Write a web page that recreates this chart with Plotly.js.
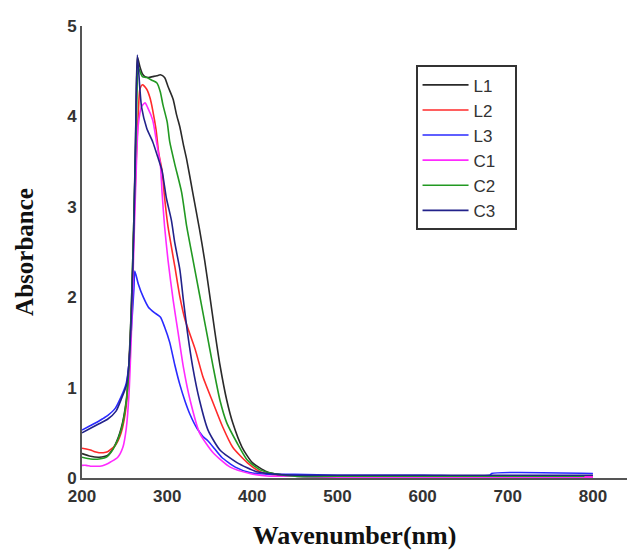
<!DOCTYPE html>
<html>
<head>
<meta charset="utf-8">
<script src="https://cdn.plot.ly/plotly-3.0.1.min.js"></script>
<style>html,body{margin:0;padding:0;background:#fff;}#chart{width:627px;height:550px;}</style>
</head>
<body>
<div id="chart"></div>
<script>
// Wavelength (nm) and absorbance values
const L1_x = [200,210,220,230,239,246,252,255,258,261,263,265,268,271,274,278,283,288,292,297,301,307,311,315,319,323,330,338,344,350,356,362,370,377,388,400,417,430,450,500,600,700,800];
const L1_y = [0.27,0.24,0.23,0.25,0.37,0.55,0.86,1.25,1.9,2.9,3.8,4.66,4.55,4.47,4.44,4.43,4.44,4.45,4.46,4.43,4.33,4.19,4.02,3.88,3.69,3.52,3.16,2.75,2.41,2.02,1.62,1.25,0.86,0.61,0.34,0.17,0.07,0.04,0.02,0.01,0.01,0.01,0.01];

const L2_x = [200,205,210,215,220,225,230,239,246,252,255,258,261,264,266,268,271,276,280,283,287,290,294,297,301,309,315,321,333,342,354,365,377,394,409,430,450,500,600,700,800];
const L2_y = [0.33,0.32,0.31,0.29,0.28,0.28,0.29,0.36,0.50,0.80,1.2,1.8,2.8,3.6,4.0,4.3,4.35,4.3,4.2,4.07,3.85,3.6,3.4,3.1,2.78,2.34,2.0,1.75,1.42,1.12,0.83,0.57,0.34,0.17,0.07,0.03,0.02,0.02,0.02,0.02,0.02];

const L3_x = [200,210,220,225,230,239,246,252,255,258,261,262,266,272,278,285,292,297,303,309,315,321,327,335,342,348,356,364,380,397,420,450,500,600,679,681,800];
const L3_y = [0.53,0.58,0.63,0.66,0.69,0.77,0.90,1.05,1.25,1.65,2.1,2.29,2.15,2.0,1.89,1.83,1.78,1.67,1.5,1.25,1.03,0.85,0.7,0.55,0.46,0.41,0.32,0.23,0.12,0.06,0.04,0.04,0.03,0.03,0.03,0.05,0.05];

const C1_x = [200,205,210,215,221,228,234,242,248,252,255,258,261,264,266,270,274,277,283,288,292,294,297,301,307,313,319,327,338,354,374,397,420,450,500,600,700,800];
const C1_y = [0.14,0.14,0.13,0.13,0.13,0.15,0.18,0.23,0.34,0.55,0.9,1.6,2.6,3.5,3.9,4.11,4.15,4.1,3.96,3.69,3.47,3.16,2.78,2.41,1.97,1.6,1.23,0.86,0.5,0.28,0.12,0.05,0.02,0.02,0.01,0.01,0.01,0.01];

const C2_x = [200,210,220,230,239,246,252,255,258,261,264,266,268,271,276,282,288,292,295,300,303,309,317,323,330,338,342,347,350,354,362,370,382,394,409,430,450,500,600,700,790];
const C2_y = [0.23,0.21,0.21,0.24,0.36,0.53,0.84,1.2,1.9,2.9,4.0,4.55,4.5,4.44,4.43,4.4,4.37,4.27,4.13,3.94,3.72,3.47,3.16,2.78,2.43,2.03,1.83,1.58,1.43,1.23,0.86,0.61,0.39,0.2,0.09,0.04,0.02,0.02,0.02,0.02,0.02];

const C3_x = [200,210,220,230,240,246,252,255,258,261,263,265,268,270,276,283,289,294,299,305,309,315,319,324,330,338,348,362,382,405,430,450,500,600,700,800];
const C3_y = [0.50,0.55,0.60,0.65,0.74,0.87,1.02,1.25,1.8,2.8,3.8,4.68,4.3,4.1,3.87,3.72,3.55,3.4,3.1,2.85,2.6,2.3,1.97,1.6,1.23,0.86,0.53,0.31,0.17,0.07,0.04,0.03,0.03,0.03,0.03,0.03];

const names = ['L1','L2','L3','C1','C2','C3'];
const xs = [L1_x, L2_x, L3_x, C1_x, C2_x, C3_x];
const ys = [L1_y, L2_y, L3_y, C1_y, C2_y, C3_y];
const colors = ['#2a2a2a','#ff2a2a','#2a2aff','#ff2aff','#229922','#22228a'];

const xTicks = [200,300,400,500,600,700,800];
const yTicks = [0,1,2,3,4,5];

const pad = '\u00a0\u00a0\u00a0';
const traces = names.map((n,i) => ({
  x: xs[i], y: ys[i], name: n + pad, type: 'scatter', mode: 'lines',
  line: {color: colors[i], width: 1.6, shape: 'spline', smoothing: 0.6}
}));

const tickFont = {family: 'Liberation Sans, Arial, sans-serif', size: 17, color: '#333', weight: 'bold'};
const layout = {
  width: 627, height: 550,
  margin: {l: 82, r: 0, t: 26, b: 72},
  paper_bgcolor: '#fff', plot_bgcolor: '#fff',
  showlegend: true,
  legend: {
    x: 0.612, y: 0.913, xanchor: 'left', yanchor: 'top',
    bgcolor: '#fff', bordercolor: '#333', borderwidth: 2,
    font: {family: 'Liberation Sans, Arial, sans-serif', size: 17, color: '#333'},
    itemwidth: 46
  },
  xaxis: {
    range: [200, 840], tickvals: xTicks, ticktext: xTicks.map(String),
    showgrid: false, zeroline: false, showline: true, linecolor: '#555', linewidth: 2,
    ticks: '', tickfont: tickFont, ticklabelstandoff: 2,
    title: {text: 'Wavenumber(nm)', font: {family: 'Liberation Serif, Times New Roman, serif', size: 26, color: '#111', weight: 'bold'}, standoff: 26}
  },
  yaxis: {
    range: [0, 5], tickvals: yTicks, ticktext: yTicks.map(String),
    showgrid: false, zeroline: false, showline: true, linecolor: '#555', linewidth: 2,
    ticks: '', tickfont: tickFont,
    title: {text: 'Absorbance', font: {family: 'Liberation Serif, Times New Roman, serif', size: 25, color: '#111', weight: 'bold'}, standoff: 26}
  }
};
Plotly.newPlot('chart', traces, layout, {displayModeBar: false, staticPlot: true});
</script>
</body>
</html>
